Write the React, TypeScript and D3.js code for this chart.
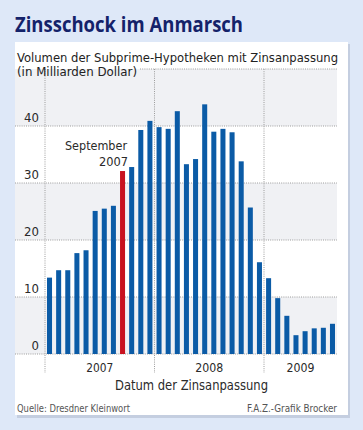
import React from "react";
import * as d3 from "d3";

const values2007 = [13.4, 14.7, 14.7, 17.7, 18.2, 25.1, 25.5, 26.0, 32.1, 32.8, 39.3, 40.9];
const values2008 = [39.8, 39.5, 42.6, 33.3, 34.2, 43.8, 39.0, 39.5, 38.9, 33.8, 25.7, 16.1];
const values2009 = [13.3, 9.8, 6.7, 3.3, 4.0, 4.5, 4.6, 5.3];
const years = ["2007", "2008", "2009"];
const yTicks = [0, 10, 20, 30, 40];
const highlightIndex = 8; // September 2007

const W = 363;
const H = 430;
const FONT = "'Liberation Sans Narrow', 'DejaVu Sans Condensed', 'Roboto Condensed', sans-serif";

export default function App() {
  const values = [...values2007, ...values2008, ...values2009];
  const yearCounts = [values2007.length, values2008.length, values2009.length];
  const n = values.length;
  const left = 45, right = 337, top = 69, bottom = 354;
  const x = d3.scaleBand<number>().domain(d3.range(n)).range([left, right]).paddingInner(0.45).paddingOuter(0.22);
  const xm = d3.scaleLinear().domain([0, n]).range([left, right]);
  const y = d3.scaleLinear().domain([0, 50]).range([bottom, top]);
  const bounds = [0, yearCounts[0], yearCounts[0] + yearCounts[1], n];
  const bands = d3.range(0, 50, 10);
  const dot = { stroke: "#9c9c9c", strokeWidth: 1, strokeDasharray: "1,1.2" };
  const yearW = [27, 28, 28];

  return (
    <svg width={W} height={H} style={{ position: "absolute", left: 0, top: 0 }} fontFamily={FONT}>
      <rect x={0} y={0} width={W} height={H} fill="#dee8f8" />
      <text x={15} y={32} fontFamily="'Open Sans', 'DejaVu Sans', sans-serif" fontWeight={700} fontSize={21}
        fill="#14226a" textLength={228} lengthAdjust="spacingAndGlyphs">Zinsschock im Anmarsch</text>
      {/* panel shadow */}
      <rect x={17} y={44} width={333} height={374} fill="#b9c3d6" opacity={0.7} />
      <rect x={15} y={42} width={333} height={373} fill="#ffffff" />
      {/* bands */}
      {bands.map((b, i) => (
        <rect key={b} x={15} y={y(b + 10)} width={right - 15} height={y(b) - y(b + 10)}
          fill={i % 2 === 0 ? "#f0f1f4" : "#ffffff"} />
      ))}
      {/* horizontal grid */}
      {yTicks.map((t) => (
        <line key={t} x1={15} x2={right} y1={y(t)} y2={y(t)} {...dot} />
      ))}
      <line x1={140} x2={right} y1={y(50)} y2={y(50)} {...dot} />
      {/* vertical grid */}
      {bounds.slice(0, 3).map((b) => (
        <line key={b} x1={xm(b)} x2={xm(b)} y1={top} y2={373} {...dot} />
      ))}
      {/* bars */}
      {values.map((v, i) => (
        <rect key={i} x={x(i)} y={y(v)} width={x.bandwidth()} height={y(0) - y(v)}
          fill={i === highlightIndex ? "#c8121f" : "#0b5ba6"} />
      ))}
      {/* y tick labels */}
      {yTicks.map((t) => (
        <text key={t} x={39} y={y(t) - 4} textAnchor="end" fontSize={13} fill="#2a2a2a">{t}</text>
      ))}
      {/* year labels */}
      {years.map((yr, i) => (
        <text key={yr} x={(xm(bounds[i]) + xm(bounds[i + 1])) / 2 - yearW[i] / 2} y={372} fontSize={13}
          fill="#2a2a2a" textLength={yearW[i]} lengthAdjust="spacingAndGlyphs">{yr}</text>
      ))}
      {/* annotation */}
      <text x={65} y={150} fontSize={13} fill="#2a2a2a" textLength={62} lengthAdjust="spacingAndGlyphs">September</text>
      <text x={99} y={166} fontSize={13} fill="#2a2a2a" textLength={29} lengthAdjust="spacingAndGlyphs">{years[0]}</text>
      {/* subtitle */}
      <text x={17} y={61.5} fontSize={13} fill="#222" textLength={321} lengthAdjust="spacingAndGlyphs">Volumen der Subprime-Hypotheken mit Zinsanpassung</text>
      <text x={17} y={75.5} fontSize={13} fill="#222" textLength={120} lengthAdjust="spacingAndGlyphs">(in Milliarden Dollar)</text>
      <text x={115} y={390} fontSize={14} fill="#2a2a2a" textLength={153} lengthAdjust="spacingAndGlyphs">Datum der Zinsanpassung</text>
      <text x={17} y={412} fontSize={11} fill="#555" textLength={113} lengthAdjust="spacingAndGlyphs">Quelle: Dresdner Kleinwort</text>
      <text x={247} y={412} fontSize={11} fill="#555" textLength={90} lengthAdjust="spacingAndGlyphs">F.A.Z.-Grafik Brocker</text>
    </svg>
  );
}
